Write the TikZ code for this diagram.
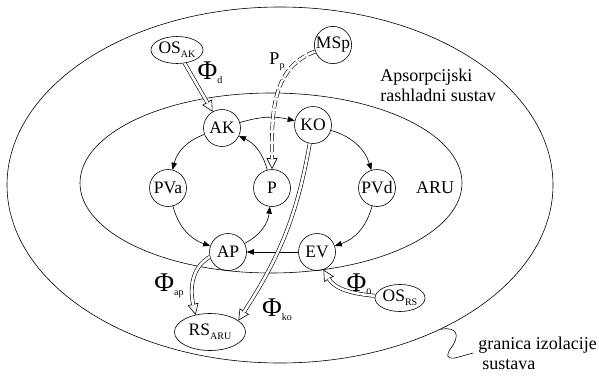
\documentclass[tikz,border=0pt]{standalone}
\usepackage{fontspec}
\IfFontExistsTF{LiberationSerif-Regular.ttf}
  {\setmainfont{LiberationSerif-Regular.ttf}}
  {\setmainfont{DejaVu Serif}}
\usetikzlibrary{shapes.geometric, arrows.meta, positioning}

\newcommand{\lowsub}[1]{\raisebox{-0.45ex}{\fontsize{10}{10}\selectfont #1}}
\newcommand{\bigphi}[1]{{\fontsize{27}{27}\selectfont Φ}\lowsub{#1}}

\begin{document}
\begin{tikzpicture}[
    x=1pt, y=1pt,
    line width=0.6pt,
    unit/.style={draw, circle, minimum size=37pt, inner sep=0pt, font=\fontsize{17.5}{17.5}\selectfont},
    src/.style={draw, ellipse, inner sep=0pt, font=\fontsize{17.5}{17.5}\selectfont},
    zone/.style={draw, ellipse, inner sep=0pt},
    lbl/.style={inner sep=0pt, font=\fontsize{18}{20}\selectfont},
    flow/.style={-{Triangle[length=7pt, width=5.5pt]}},
    heat/.style={-{Triangle[open, length=11pt, width=11pt]},
        postaction={draw, -, double, double distance=2.6pt, shorten >=10pt}}
  ]
  \useasboundingbox (0,0) rectangle (599,376);

  \node[zone, minimum width=546pt, minimum height=356pt] (sys) at (280,191) {};
  \node[zone, minimum width=382pt, minimum height=180pt] (aru) at (271,193) {};

  \node[unit] (AK) at (222,248) {AK};
  \node[unit] (KO) at (313,251) {KO};
  \node[unit] (PVa) at (168,188) {PVa};
  \node[unit] (P) at (272,188) {P};
  \node[unit] (PVd) at (377,188) {PVd};
  \node[unit] (AP) at (228,124) {AP};
  \node[unit] (EV) at (317,124) {EV};
  \node[unit, minimum size=36pt] (MSp) at (333,331) {MSp};

  \node[src, minimum width=48pt, minimum height=27pt] (OSak) at (177,326) {OS\lowsub{AK}};
  \node[src, minimum width=71pt, minimum height=37pt] (RSaru) at (210,44) {RS\lowsub{ARU}};
  \node[src, minimum width=50pt, minimum height=27pt] (OSrs) at (400,78) {OS\lowsub{RS}};

  \node[lbl] (phid) at (210,303) {\bigphi{d}};
  \node[lbl] (pp) at (277,314) {P\lowsub{p}};
  \node[lbl] (phiap) at (169,90) {\bigphi{ap}};
  \node[lbl] (phiko) at (277,66) {\bigphi{ko}};
  \node[lbl] (phio) at (359,91) {\bigphi{0}};
  \node[lbl, anchor=west, align=left] (ars) at (380,291) {Apsorpcijski\\rashladni sustav};
  \node[lbl] (arulbl) at (435,188) {ARU};
  \node[lbl, anchor=west, align=left] (gr) at (478,23) {granica izolacije\\\hspace{4pt}sustava};

  \draw[flow] (AK) to[bend left=15] (KO);
  \draw[flow] (AK) to[bend right=28] (PVa);
  \draw[flow] (PVa) to[bend right=28] (AP);
  \draw[flow] (AP) to[bend right=28] (P);
  \draw[flow] (P) to[bend right=25] (AK);
  \draw[flow] (KO) to[bend left=28] (PVd);
  \draw[flow] (PVd) to[bend left=28] (EV);
  \draw[flow] (EV) -- (AP);

  \draw[heat] (OSak) -- (AK);
  \draw[heat, dash pattern=on 8pt off 3pt] (MSp) to[out=200, in=90] (P);
  \draw[heat] (KO) to[out=-100, in=57] (RSaru.22);
  \draw[heat] (AP.195) to[out=210, in=103] (RSaru.130);
  \draw[heat] (OSrs) to[out=175, in=-60] (EV.-70);

  \draw (sys.-42) .. controls (458,50) and (460,40) .. (451,28)
    .. controls (446,21) and (446,17) .. (455,18) -- ([xshift=-5pt]gr.west);
\end{tikzpicture}
\end{document}
